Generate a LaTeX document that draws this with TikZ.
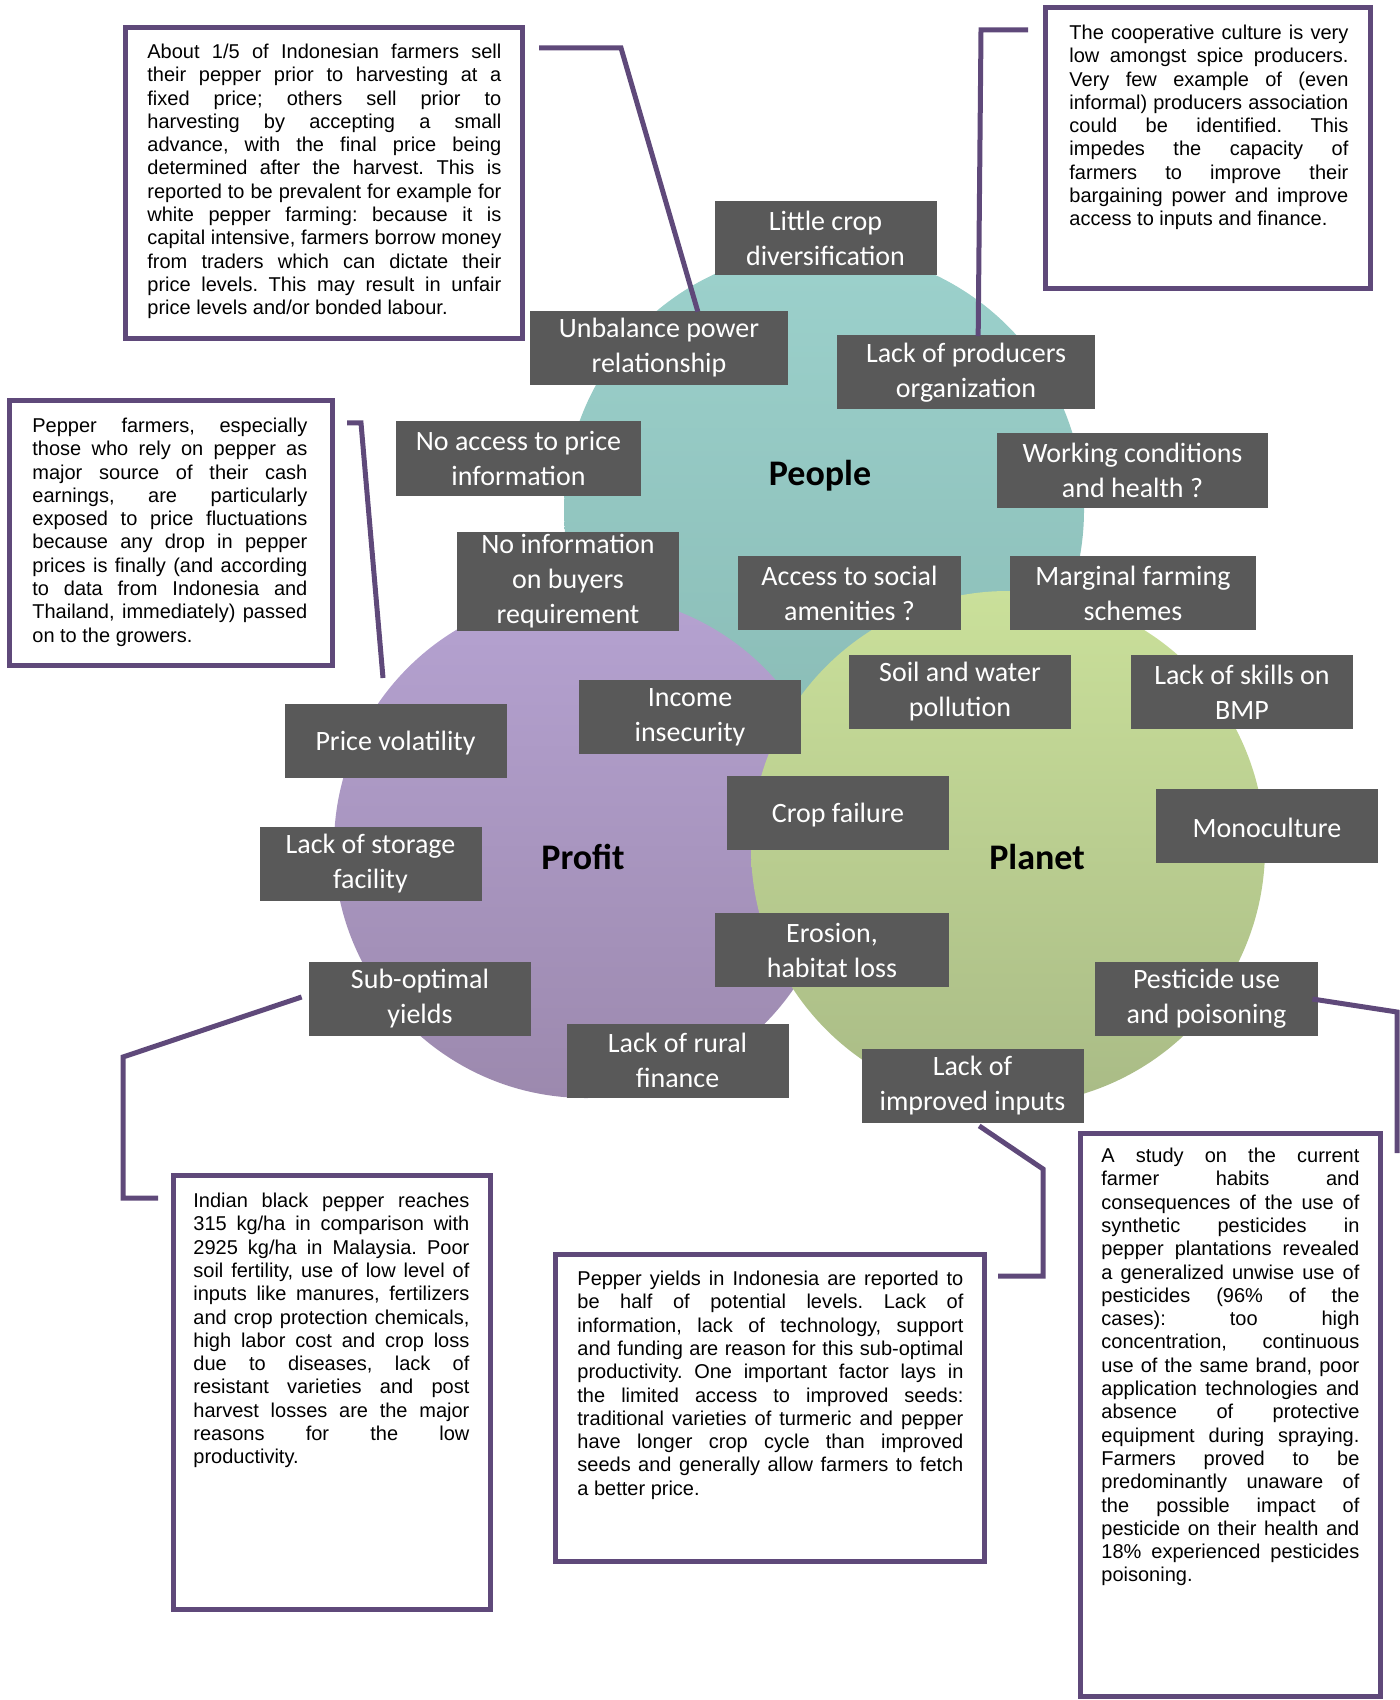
\documentclass[tikz,border=0pt]{standalone}
\usepackage{fontspec}
\setmainfont{Liberation Sans}
\newfontfamily\labelfont{Carlito}
\usetikzlibrary{calc}
\definecolor{framepurple}{HTML}{5F497A}
\definecolor{labelbg}{HTML}{595959}
\definecolor{peopletop}{HTML}{9CD1CC}
\definecolor{peoplebot}{HTML}{89BBB5}
\definecolor{profittop}{HTML}{B5A2D1}
\definecolor{profitbot}{HTML}{9C89AE}
\definecolor{planettop}{HTML}{CAE09A}
\definecolor{planetbot}{HTML}{A9BB86}
\newdimen\px \px=0.5pt
\hyphenpenalty=10000
\exhyphenpenalty=10000
\tolerance=10000
\hbadness=10000
\frenchspacing

\begin{document}
\begin{tikzpicture}[x=0.5pt,y=-0.5pt,
  issue/.style={fill=labelbg, text=white, align=center, inner sep=0pt,
    font=\labelfont\fontsize{14}{17.5}\selectfont,
    execute at begin node={\rule{0pt}{11.8pt}},
    minimum width=222\px, minimum height=74\px},
  note/.style={draw=framepurple, line width=5\px, fill=white, inner sep=0pt},
  notetext/.style={anchor=north west, inner sep=0pt, align=justify,
    font=\fontsize{10}{11.65}\selectfont},
  link/.style={draw=framepurple, line width=5\px},
  pillar/.style={font=\labelfont\bfseries\fontsize{18}{22}\selectfont}
]
\useasboundingbox (0,0) rectangle (1400,1700);

% the three overlapping circles
\shade[top color=peopletop, bottom color=peoplebot] (824,510) circle (260);
\shade[top color=profittop, bottom color=profitbot] (586,846) circle (252);
\shade[top color=planettop, bottom color=planetbot] (1008,848) circle (257);

\node[pillar] (people) at (820,476) {People};
\node[pillar] (profit) at (583,857) {Profit};
\node[pillar] (planet) at (1037,857) {Planet};

% issue labels
\node[issue] (crop) at (825.5,238) {Little crop\\diversification};
\node[issue, minimum width=258\px] (power) at (659,348) {Unbalance power\\relationship};
\node[issue, minimum width=258\px] (prodorg) at (966,372.5) {Lack of producers\\organization};
\node[issue, minimum width=245\px] (priceinfo) at (518.5,458.5) {No access to price\\information};
\node[issue, minimum width=271\px] (working) at (1132.5,470.5) {Working conditions\\and health ?};
\node[issue, minimum height=99\px] (buyers) at (568,581.5) {No information\\on buyers\\requirement};
\node[issue, minimum width=223\px] (social) at (849.5,593) {Access to social\\amenities ?};
\node[issue, minimum width=246\px] (marginal) at (1133,593) {Marginal farming\\schemes};
\node[issue] (soil) at (960,692) {Soil and water\\pollution};
\node[issue] (skills) at (1242,692) {Lack of skills on\\BMP};
\node[issue] (income) at (690,717) {Income\\insecurity};
\node[issue] (volatility) at (395.5,740.5) {Price volatility};
\node[issue] (cropfail) at (838,813) {Crop failure};
\node[issue] (mono) at (1267,826) {Monoculture};
\node[issue] (storage) at (370.5,864) {Lack of storage\\facility};
\node[issue, minimum width=234\px] (erosion) at (832,950) {Erosion,\\habitat loss};
\node[issue] (suboptimal) at (420,999) {Sub-optimal\\yields};
\node[issue, minimum width=223\px] (pesticide) at (1206.5,999) {Pesticide use\\and poisoning};
\node[issue] (rural) at (677.5,1060.5) {Lack of rural\\finance};
\node[issue] (inputs) at (972.5,1085.5) {Lack of\\improved inputs};

% note frames
\node[note, minimum width=397\px, minimum height=311\px] (noteA) at (324,183) {};
\node[note, minimum width=325\px, minimum height=281\px] (noteB) at (1208,148) {};
\node[note, minimum width=323\px, minimum height=265\px] (noteC) at (171,533) {};
\node[note, minimum width=317\px, minimum height=434\px] (noteD) at (332,1392.5) {};
\node[note, minimum width=429\px, minimum height=307\px] (noteE) at (770,1408) {};
\node[note, minimum width=300\px, minimum height=563\px] (noteF) at (1230.5,1415) {};

% note texts
\node[notetext, text width=354\px] (textA) at (147,43.6) {\noindent\rule{0pt}{7.2pt}About 1/5 of Indonesian farmers sell\linebreak
their pepper prior to harvesting at a\linebreak
fixed price; others sell prior to\linebreak
harvesting by accepting a small\linebreak
advance, with the final price being\linebreak
determined after the harvest. This is\linebreak
reported to be prevalent for example for\linebreak
white pepper farming: because it is\linebreak
capital intensive, farmers borrow money\linebreak
from traders which can dictate their\linebreak
price levels. This may result in unfair\linebreak
price levels and/or bonded labour.};

\node[notetext, text width=279\px] (textB) at (1069,24.6) {\noindent\rule{0pt}{7.2pt}The cooperative culture is very\linebreak
low amongst spice producers.\linebreak
Very few example of (even\linebreak
informal) producers association\linebreak
could be identified. This\linebreak
impedes the capacity of\linebreak
farmers to improve their\linebreak
bargaining power and improve\linebreak
access to inputs and finance.};

\node[notetext, text width=275\px] (textC) at (32,417.6) {\noindent\rule{0pt}{7.2pt}Pepper farmers, especially\linebreak
those who rely on pepper as\linebreak
major source of their cash\linebreak
earnings, are particularly\linebreak
exposed to price fluctuations\linebreak
because any drop in pepper\linebreak
prices is finally (and according\linebreak
to data from Indonesia and\linebreak
Thailand, immediately) passed\linebreak
on to the growers.};

\node[notetext, text width=276\px] (textD) at (193,1192.6) {\noindent\rule{0pt}{7.2pt}Indian black pepper reaches\linebreak
315 kg/ha in comparison with\linebreak
2925 kg/ha in Malaysia. Poor\linebreak
soil fertility, use of low level of\linebreak
inputs like manures, fertilizers\linebreak
and crop protection chemicals,\linebreak
high labor cost and crop loss\linebreak
due to diseases, lack of\linebreak
resistant varieties and post\linebreak
harvest losses are the major\linebreak
reasons for the low\linebreak
productivity.};

\node[notetext, text width=386\px] (textE) at (577,1270.6) {\noindent\rule{0pt}{7.2pt}Pepper yields in Indonesia are reported to\linebreak
be half of potential levels. Lack of\linebreak
information, lack of technology, support\linebreak
and funding are reason for this sub-optimal\linebreak
productivity. One important factor lays in\linebreak
the limited access to improved seeds:\linebreak
traditional varieties of turmeric and pepper\linebreak
have longer crop cycle than improved\linebreak
seeds and generally allow farmers to fetch\linebreak
a better price.};

\node[notetext, text width=258\px] (textF) at (1101,1147.6) {\noindent\rule{0pt}{7.2pt}A study on the current\linebreak
farmer habits and\linebreak
consequences of the use of\linebreak
synthetic pesticides in\linebreak
pepper plantations revealed\linebreak
a generalized unwise use of\linebreak
pesticides (96\% of the\linebreak
cases): too high\linebreak
concentration, continuous\linebreak
use of the same brand, poor\linebreak
application technologies and\linebreak
absence of protective\linebreak
equipment during spraying.\linebreak
Farmers proved to be\linebreak
predominantly unaware of\linebreak
the possible impact of\linebreak
pesticide on their health and\linebreak
18\% experienced pesticides\linebreak
poisoning.};

% connector end points
\coordinate (aStart) at (539,48);
\coordinate (aBend) at (621,48);
\coordinate (bStart) at (1028,30);
\coordinate (bBend) at (981,30);
\coordinate (cStart) at (347,423);
\coordinate (cBend) at (361,423);
\coordinate (cEnd) at (383,678);
\coordinate (dBend1) at (123,1057);
\coordinate (dBend2) at (123,1198);
\coordinate (dEnd) at (158,1198);
\coordinate (eBend1) at (1043,1169);
\coordinate (eBend2) at (1043,1276);
\coordinate (eEnd) at (998,1276);
\coordinate (fBend) at (1397,1012);
\coordinate (fEnd) at (1397,1153);

% connectors between notes and issues
\draw[link] (aStart) -- (aBend) -- ($(power.north west)!0.65!(power.north east)+(0,1)$);
\draw[link] (bStart) -- (bBend) -- ($(prodorg.north west)!0.547!(prodorg.north east)+(0,1)$);
\draw[link] (cStart) -- (cBend) -- (cEnd);
\draw[link] ($(suboptimal.west)+(-7,-2)$) -- (dBend1) -- (dBend2) -- (dEnd);
\draw[link] ($(inputs.south west)!0.53!(inputs.south east)+(0,3)$) -- (eBend1) -- (eBend2) -- (eEnd);
\draw[link] ($(pesticide.east)+(-6,0)$) -- (fBend) -- (fEnd);
\end{tikzpicture}
\end{document}
